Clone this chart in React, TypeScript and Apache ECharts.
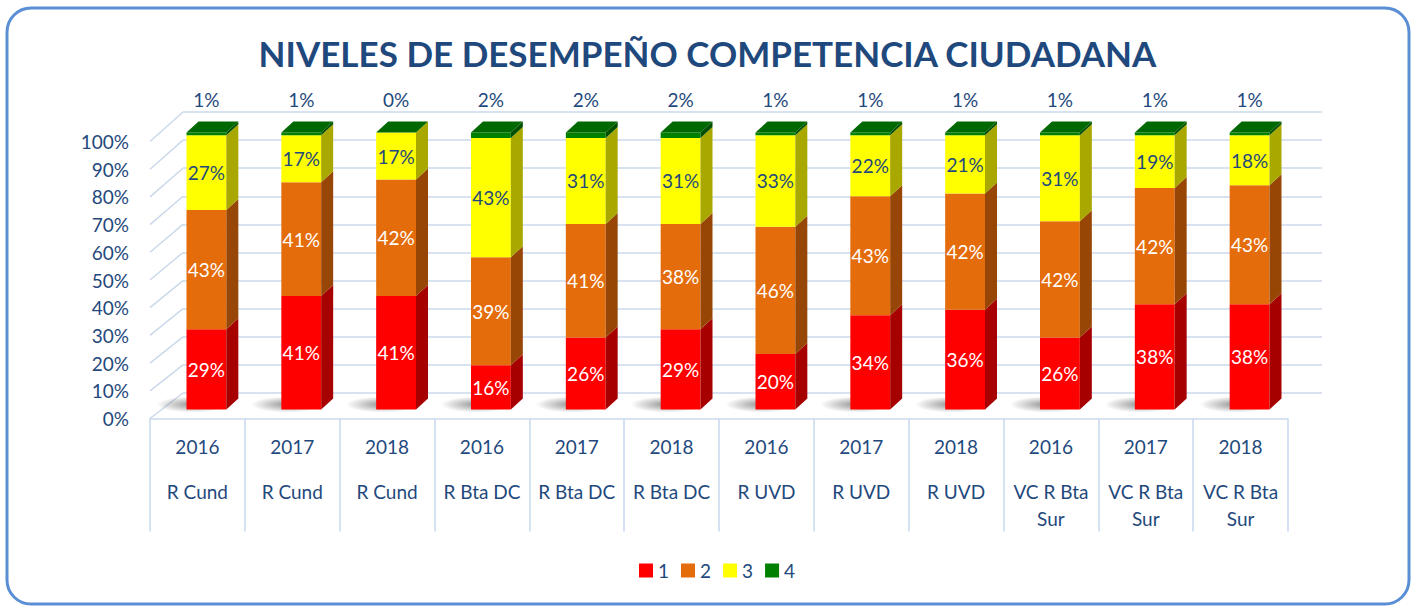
import React, { useEffect, useRef } from 'react';
import * as echarts from 'echarts';

// ---------- data ----------
const years = ['2016', '2017', '2018', '2016', '2017', '2018', '2016', '2017', '2018', '2016', '2017', '2018'];
const regions = ['R Cund', 'R Cund', 'R Cund', 'R Bta DC', 'R Bta DC', 'R Bta DC', 'R UVD', 'R UVD', 'R UVD', 'VC R Bta Sur', 'VC R Bta Sur', 'VC R Bta Sur'];
const level1 = [29, 41, 41, 16, 26, 29, 20, 34, 36, 26, 38, 38];
const level2 = [43, 41, 42, 39, 41, 38, 46, 43, 42, 42, 42, 43];
const level3 = [27, 17, 17, 43, 31, 31, 33, 22, 21, 31, 19, 18];
const level4 = [1, 1, 0, 2, 2, 2, 1, 1, 1, 1, 1, 1];
const seriesNames = ['1', '2', '3', '4'];
const wallTicks = [0, 10, 20, 30, 40, 50, 60, 70, 80, 90, 100];
const title = 'NIVELES DE DESEMPEÑO COMPETENCIA CIUDADANA';

// ---------- styles ----------
const FONT = 'Lato, "Noto Sans", sans-serif';
const TEXT = '#1f497d';
const GRIDLINE = '#ccd9eb';
const FRONT = ['#ff0000', '#e46c0a', '#ffff00', '#008000'];
const SIDE = ['#a60000', '#984606', '#a8a800', '#004f00'];
const TOP_GREEN = '#006800';
const LABEL_COLORS = ['#ffffff', '#ffffff', TEXT, TEXT];

// geometry of the front (labels) plane and the back wall
const FRONT_LEFT = 150;
const FRONT_WIDTH = 1138;
const FRONT_TOP = 141.5;
const FRONT_HEIGHT = 277;
const BACK_LEFT = 183;
const BACK_WIDTH = 1139;
const BACK_TOP = 112;
const BACK_HEIGHT = 281;

const levels = [level1, level2, level3, level4];

function wrapName(s: string) {
  if (s.length <= 9) return s;
  const k = s.lastIndexOf(' ');
  return s.slice(0, k) + '\n' + s.slice(k + 1);
}

function makeBarSeries(k: number) {
  const data = years.map((_, i) => {
    let base = 0;
    for (let j = 0; j < k; j++) base += levels[j][i];
    return [i, base, base + levels[k][i], levels[k][i]];
  });
  return {
    type: 'custom',
    name: seriesNames[k],
    xAxisIndex: 0,
    yAxisIndex: 0,
    itemStyle: { color: FRONT[k] },
    encode: { x: 0, y: [1, 2] },
    z: 3 + k,
    silent: true,
    data,
    renderItem: (params: any, api: any) => {
      const i = api.value(0);
      const lo = api.value(1);
      const hi = api.value(2);
      const v = api.value(3);
      const pLo = api.coord([i, lo]);
      const pHi = api.coord([i, hi]);
      const w = api.size([1, 0])[0] * 0.42;
      const xl = pLo[0] + 9 - w / 2;
      const xr = xl + w;
      const yb = pLo[1] - 9;
      const yt = pHi[1] - 9;
      const dx = 12;
      const dy = -11;
      const children: any[] = [];
      if (k === 0) {
        children.push({
          type: 'ellipse',
          shape: { cx: xl + 6, cy: yb - 5, rx: 36, ry: 8 },
          style: {
            fill: new echarts.graphic.RadialGradient(0.5, 0.5, 0.5, [
              { offset: 0, color: 'rgba(60,60,60,0.55)' },
              { offset: 1, color: 'rgba(60,60,60,0)' },
            ]),
          },
        });
      }
      children.push({
        type: 'rect',
        shape: { x: xl, y: yt, width: w, height: Math.max(0, yb - yt) },
        style: { fill: FRONT[k] },
      });
      children.push({
        type: 'polygon',
        shape: { points: [[xr, yt], [xr + dx, yt + dy], [xr + dx, yb + dy], [xr, yb]] },
        style: { fill: SIDE[k] },
      });
      if (k === 3) {
        children.push({
          type: 'polygon',
          shape: { points: [[xl, yt], [xl + dx, yt + dy], [xr + dx, yt + dy], [xr, yt]] },
          style: { fill: TOP_GREEN },
        });
        children.push({
          type: 'text',
          style: {
            text: v + '%',
            x: xl + w / 2,
            y: yt - 33,
            align: 'center',
            verticalAlign: 'middle',
            fill: LABEL_COLORS[k],
            font: '19px ' + FONT,
          },
        });
      } else {
        children.push({
          type: 'text',
          style: {
            text: v + '%',
            x: xl + w / 2,
            y: (yt + yb) / 2,
            align: 'center',
            verticalAlign: 'middle',
            fill: LABEL_COLORS[k],
            font: '19px ' + FONT,
          },
        });
      }
      return { type: 'group', children };
    },
  };
}

const wallSeries = {
  type: 'custom',
  name: 'wall',
  xAxisIndex: 0,
  yAxisIndex: 0,
  z: 1,
  silent: true,
  data: wallTicks.map((t) => [0, t]),
  encode: { x: 0, y: 1 },
  renderItem: (params: any, api: any) => {
    const t = api.value(1);
    const yFront = api.coord([0, t])[1];
    const yBack = BACK_TOP + BACK_HEIGHT - (t / 100) * BACK_HEIGHT;
    return {
      type: 'line',
      shape: { x1: params.coordSys.x, y1: yFront, x2: BACK_LEFT, y2: yBack },
      style: { stroke: GRIDLINE, lineWidth: 1.5 },
    };
  },
};

export default function App() {
  const ref = useRef<HTMLDivElement>(null);
  useEffect(() => {
    if (!ref.current) return;
    const chart = echarts.init(ref.current, undefined, { renderer: 'svg' });
    const option: any = {
      animation: false,
      backgroundColor: '#ffffff',
      color: FRONT,
      title: {
        text: title,
        left: 'center',
        top: 30,
        textStyle: { fontSize: 35, fontWeight: 'bold', color: TEXT, fontFamily: FONT },
      },
      legend: {
        data: seriesNames,
        left: 634,
        top: 556,
        icon: 'rect',
        itemWidth: 14,
        itemHeight: 14,
        itemGap: 12,
        textStyle: { color: TEXT, fontSize: 19, fontFamily: FONT },
      },
      grid: [
        { left: FRONT_LEFT, top: FRONT_TOP, width: FRONT_WIDTH, height: FRONT_HEIGHT },
        { left: BACK_LEFT, top: BACK_TOP, width: BACK_WIDTH, height: BACK_HEIGHT },
      ],
      xAxis: [
        {
          type: 'category',
          gridIndex: 0,
          data: years.map((y, i) => y + ' ' + regions[i]),
          boundaryGap: true,
          axisLine: { show: true, lineStyle: { color: GRIDLINE, width: 1.5 } },
          axisTick: { show: true, length: 113, lineStyle: { color: '#c6d9f1', width: 1.5 } },
          axisLabel: {
            interval: 0,
            margin: -4,
            formatter: (_: string, idx: number) => {
              const lines = wrapName(regions[idx]).split('\n');
              return '{y|' + years[idx] + '}\n' + lines.map((l) => '{n|' + l + '}').join('\n');
            },
            rich: {
              y: { lineHeight: 63, fontSize: 19, color: TEXT, fontFamily: FONT },
              n: { lineHeight: 27, fontSize: 19, color: TEXT, fontFamily: FONT },
            },
          },
          splitLine: { show: false },
        },
        {
          type: 'value',
          gridIndex: 1,
          min: 0,
          max: 1,
          show: false,
        },
      ],
      yAxis: [
        {
          type: 'value',
          gridIndex: 0,
          min: 0,
          max: 100,
          interval: 10,
          axisLine: { show: false },
          axisTick: { show: false },
          splitLine: { show: false },
          axisLabel: {
            formatter: '{value}%',
            color: TEXT,
            fontSize: 19,
            fontFamily: FONT,
            margin: 21,
          },
        },
        {
          type: 'value',
          gridIndex: 1,
          min: 0,
          max: 100,
          interval: 10,
          axisLine: { show: false },
          axisTick: { show: false },
          axisLabel: { show: false },
          splitLine: { show: true, lineStyle: { color: GRIDLINE, width: 1.5 } },
        },
      ],
      graphic: [
        {
          type: 'rect',
          shape: { x: 7, y: 8, width: 1402, height: 596, r: 24 },
          style: { fill: 'none', stroke: '#5b8fd5', lineWidth: 3 },
          silent: true,
          z: 100,
        },
      ],
      series: [wallSeries, makeBarSeries(0), makeBarSeries(1), makeBarSeries(2), makeBarSeries(3)],
    };
    chart.setOption(option);
    return () => chart.dispose();
  }, []);
  return (
    <div
      ref={ref}
      style={{ position: 'absolute', left: 0, top: 0, width: '1415px', height: '608px' }}
    />
  );
}
